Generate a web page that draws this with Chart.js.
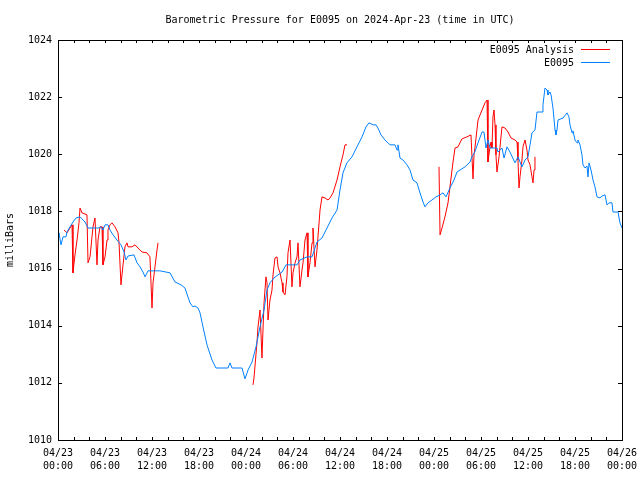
<!DOCTYPE html>
<html>
<head>
<meta charset="utf-8">
<script src="https://cdn.jsdelivr.net/npm/chart.js@4"></script>
<style>
  html, body { margin: 0; padding: 0; background: #fff; }
  #wrap { width: 640px; height: 480px; }
</style>
</head>
<body>
<div id="wrap"><canvas id="chart" width="640" height="480"></canvas></div>
<script>
// hours since 04/23 00:00 UTC and pressure (mbar)
const stationHours = [0, 0.13, 0.38, 0.64, 1.02, 1.15, 1.53, 1.91, 2.30, 2.81, 3.45, 3.83, 5.23, 5.49, 5.74, 6.0, 6.38, 6.64, 7.02, 7.53,
  8.04, 8.43, 8.68, 8.94, 9.70, 10.09, 10.47, 10.85, 11.11, 11.49, 13.02, 14.30, 14.94, 15.70, 16.21, 16.85, 17.23, 17.49, 17.87, 18.13,
  18.51, 19.02, 19.66, 20.17, 21.70, 21.96, 22.21, 23.49, 23.87, 24.26, 24.77, 25.28, 25.79, 26.30, 26.68, 27.06, 27.57, 28.09, 28.60, 29.11,
  30.51, 30.89, 31.79, 32.43, 33.06, 33.70, 34.34, 34.98, 35.62, 36.00, 36.38, 36.89, 37.53, 38.17, 38.81, 39.32, 39.70, 40.21, 40.60, 40.85,
  41.23, 41.74, 42.13, 42.38, 43.02, 43.28, 43.40, 43.66, 44.04, 44.55, 44.94, 45.32, 45.83, 46.21, 46.60, 46.85, 47.23, 47.74, 48.26, 48.77,
  49.15, 49.53, 50.04, 50.55, 50.94, 51.32, 51.96, 52.60, 52.85, 53.24, 53.62, 54.13, 54.38, 54.64, 54.89, 55.15, 56.04, 56.17, 56.68, 56.94,
  57.32, 57.70, 58.34, 58.72, 59.23, 59.62, 60.0, 60.26, 60.51, 60.89, 61.15, 61.79, 61.91, 62.17, 62.43, 62.55, 62.81, 62.94, 63.19, 63.45,
  63.57, 63.70, 63.83, 64.47, 64.98, 65.23, 65.36, 65.62, 65.74, 66.0, 66.26, 66.38, 66.64, 66.89, 67.02, 67.28, 67.53, 67.66, 67.79, 68.04,
  68.17, 68.30, 68.55, 68.81, 69.19, 69.45, 69.83, 70.09, 70.34, 70.72, 70.85, 71.49, 71.74, 72.0];
const stationPressure = [1017.14, 1017.25, 1016.83, 1017.11, 1017.11, 1017.28, 1017.46, 1017.63, 1017.77, 1017.81, 1017.63, 1017.42, 1017.42, 1017.46, 1017.35, 1017.53, 1017.53, 1017.35, 1017.18, 1017.0,
  1016.83, 1016.58, 1016.30, 1016.44, 1016.48, 1016.20, 1016.06, 1015.88, 1015.71, 1015.92, 1015.92, 1015.85, 1015.53, 1015.43, 1015.32, 1014.80, 1014.66, 1014.69, 1014.62, 1014.45,
  1013.96, 1013.33, 1012.80, 1012.52, 1012.52, 1012.70, 1012.52, 1012.52, 1012.14, 1012.45, 1012.73, 1013.26, 1013.96, 1014.55, 1015.25, 1015.50, 1015.67, 1015.78, 1015.88, 1016.13,
  1016.13, 1016.30, 1016.41, 1016.41, 1016.93, 1017.07, 1017.42, 1017.77, 1018.05, 1018.75, 1019.35, 1019.70, 1019.91, 1020.26, 1020.61, 1020.96, 1021.10, 1021.03, 1021.03, 1020.92,
  1020.68, 1020.50, 1020.40, 1020.33, 1020.33, 1020.15, 1020.33, 1019.87, 1019.80, 1019.63, 1019.45, 1019.10, 1019.00, 1018.65, 1018.33, 1018.16, 1018.30, 1018.40, 1018.51, 1018.58,
  1018.65, 1018.51, 1018.82, 1019.10, 1019.38, 1019.45, 1019.56, 1019.73, 1019.91, 1020.10, 1020.40, 1020.78, 1020.78, 1020.22, 1020.50, 1020.22, 1020.22, 1020.08, 1020.22, 1019.87,
  1020.26, 1020.08, 1019.70, 1019.91, 1019.56, 1019.80, 1019.91, 1020.33, 1020.75, 1020.85, 1021.48, 1021.48, 1021.73, 1022.32, 1022.25, 1022.08, 1022.18, 1022.08, 1021.62, 1020.85,
  1020.68, 1020.85, 1021.20, 1021.27, 1021.45, 1021.31, 1021.03, 1020.75, 1020.82, 1020.50, 1020.40, 1020.50, 1020.33, 1019.98, 1019.63, 1019.52, 1019.59, 1019.21, 1019.70, 1019.45,
  1019.28, 1019.10, 1018.86, 1018.51, 1018.47, 1018.54, 1018.58, 1018.23, 1018.30, 1018.30, 1017.98, 1017.98, 1017.60, 1017.42];

// analysis series, null = gap between runs
const analysisHours = [0.77, 1.15, 1.53, 1.79, 1.91, 2.17, 2.43, 2.68, 2.81, 3.06, 3.70, 3.83, 4.09, 4.34, 4.47, 4.72, 4.98, 5.11, 5.36, 5.62,
  5.74, 6.0, 6.26, 6.38, 6.64, 6.89, 7.28, 7.66, 7.79, 8.04, 8.30, 8.55, 8.81, 8.94, 9.45, 9.83, 10.21, 10.72, 11.36, 11.74,
  12.0, 12.13, 12.38, 12.64, 12.77, 18.0,
  24.89, 25.02, 25.40, 25.53, 25.79, 26.04, 26.17, 26.30, 26.55, 26.68, 26.81, 27.06, 27.32, 27.45, 27.70, 27.96, 28.09, 28.34, 28.60, 28.72,
  28.98, 29.23, 29.36, 29.62, 29.87, 30.0, 30.26, 30.51, 30.64, 30.89, 31.15, 31.28, 31.53, 31.79, 31.91, 32.17, 32.43, 32.55, 32.81, 33.06,
  33.19, 33.45, 33.70, 34.09, 34.47, 34.72, 35.11, 35.62, 36.0, 36.38, 36.64, 36.89, 42.0,
  48.64, 48.77, 49.02, 49.40, 49.79, 50.04, 50.30, 50.43, 50.68, 51.06, 51.57, 52.21, 52.72, 52.85, 52.98, 53.11, 53.24, 53.62, 54.13, 54.51,
  54.77, 54.89, 55.15, 55.28, 55.40, 55.53, 55.66, 55.79, 55.91, 56.04, 56.30, 56.68, 57.06, 57.45, 57.83, 58.34, 58.60, 58.72, 58.85, 58.98,
  59.23, 59.36, 59.62, 59.87, 60.0, 60.26, 60.51, 60.64, 60.77, 60.89];
const analysisPressure = [1017.35, 1017.25, 1017.42, 1017.53, 1015.85, 1016.48, 1017.0, 1017.60, 1018.12, 1017.95, 1017.88, 1016.20, 1016.41, 1017.11, 1017.46, 1017.77, 1016.13, 1017.0, 1017.46, 1017.46,
  1016.13, 1016.41, 1017.0, 1017.35, 1017.53, 1017.60, 1017.46, 1017.25, 1016.90, 1015.43, 1016.13, 1016.76, 1016.90, 1016.76, 1016.76, 1016.83, 1016.72, 1016.58, 1016.55, 1016.41,
  1014.62, 1015.50, 1016.06, 1016.65, 1016.90, null,
  1011.93, 1012.17, 1013.40, 1013.96, 1014.55, 1012.87, 1013.85, 1014.80, 1015.71, 1015.50, 1014.20, 1014.90, 1015.25, 1015.78, 1016.37, 1016.41, 1016.06, 1015.85, 1015.50, 1015.18,
  1015.08, 1015.71, 1016.55, 1017.0, 1015.36, 1015.85, 1016.20, 1016.41, 1016.90, 1015.36, 1015.95, 1016.20, 1017.0, 1017.25, 1015.71, 1016.20, 1016.90, 1017.42, 1016.06, 1016.65,
  1017.11, 1018.05, 1018.51, 1018.47, 1018.40, 1018.47, 1018.65, 1019.10, 1019.56, 1019.98, 1020.33, 1020.33, null,
  1019.56, 1017.18, 1017.42, 1017.81, 1018.30, 1018.86, 1019.45, 1019.73, 1020.22, 1020.26, 1020.54, 1020.61, 1020.68, 1019.91, 1019.14, 1019.98, 1020.26, 1021.20, 1021.55, 1021.80,
  1021.90, 1019.73, 1020.26, 1020.43, 1020.22, 1021.31, 1021.55, 1021.03, 1019.98, 1019.38, 1019.91, 1020.96, 1020.92, 1020.78, 1020.57, 1020.50, 1020.43, 1019.80, 1018.82, 1019.21,
  1019.80, 1020.26, 1020.50, 1020.15, 1019.80, 1019.63, 1019.21, 1019.0, 1019.45, 1019.91];

const tickDates = ['04/23', '04/23', '04/23', '04/23', '04/24', '04/24', '04/24', '04/24', '04/25', '04/25', '04/25', '04/25', '04/26'];
const tickTimes = ['00:00', '06:00', '12:00', '18:00', '00:00', '06:00', '12:00', '18:00', '00:00', '06:00', '12:00', '18:00', '00:00'];
const yTicks = [1010, 1012, 1014, 1016, 1018, 1020, 1022, 1024];

const RED = 'rgb(255,0,0)';
const BLUE = 'rgb(0,128,255)';
const FONT = '"DejaVu Sans Mono", "Liberation Mono", monospace';

Chart.defaults.font.family = FONT;
Chart.defaults.font.size = 10;
Chart.defaults.color = '#000';

function toPoints(xs, ys) {
    return xs.map((x, i) => ({x: x, y: ys[i]}));
}

// gnuplot style frame, inward ticks, title and legend
let framePlugin = {
    id: 'frame',
    afterDraw: function (chart) {
        let ctx = chart.ctx;
        let a = chart.chartArea;
        let xs = chart.scales.x;
        let ys = chart.scales.y;
        ctx.save();
        ctx.strokeStyle = '#000';
        ctx.lineWidth = 1;
        ctx.strokeRect(Math.round(a.left) + 0.5, Math.round(a.top) + 0.5,
            Math.round(a.right - a.left), Math.round(a.bottom - a.top));
        ctx.beginPath();
        for (let h = 2; h < 72; h += 2) {
            let px = Math.round(xs.getPixelForValue(h)) + 0.5;
            ctx.moveTo(px, a.bottom);
            ctx.lineTo(px, a.bottom - 3);
            ctx.moveTo(px, a.top);
            ctx.lineTo(px, a.top + 3);
        }
        yTicks.forEach(v => {
            let py = Math.round(ys.getPixelForValue(v)) + 0.5;
            ctx.moveTo(a.left, py);
            ctx.lineTo(a.left + 4, py);
            ctx.moveTo(a.right, py);
            ctx.lineTo(a.right - 4, py);
        });
        ctx.stroke();

        ctx.fillStyle = '#000';
        ctx.font = '10px ' + FONT;
        ctx.textBaseline = 'middle';
        ctx.textAlign = 'center';
        ctx.fillText('Barometric Pressure for E0095 on 2024-Apr-23 (time in UTC)', (a.left + a.right) / 2, 20);

        // legend
        let entries = [['E0095 Analysis', RED], ['E0095', BLUE]];
        ctx.textAlign = 'right';
        entries.forEach((e, i) => {
            let yy = 50 + i * 13;
            ctx.fillStyle = '#000';
            ctx.fillText(e[0], 574, yy + 0.5);
            ctx.strokeStyle = e[1];
            ctx.beginPath();
            ctx.moveTo(581, yy - 0.5);
            ctx.lineTo(610, yy - 0.5);
            ctx.stroke();
        });
        ctx.restore();
    }
};

let ctx = document.getElementById('chart').getContext('2d');
let chart = new Chart(ctx, {
    type: 'line',
    data: {
        datasets: [{
            label: 'E0095 Analysis',
            data: toPoints(analysisHours, analysisPressure),
            borderColor: RED,
            borderWidth: 1,
            pointRadius: 0,
            spanGaps: false,
            tension: 0,
            order: 2
        }, {
            label: 'E0095',
            data: toPoints(stationHours, stationPressure),
            borderColor: BLUE,
            borderWidth: 1,
            pointRadius: 0,
            tension: 0,
            order: 1
        }]
    },
    options: {
        responsive: false,
        animation: false,
        events: [],
        layout: {padding: {top: 40, right: 18, left: 0, bottom: 0}},
        plugins: {legend: {display: false}, tooltip: {enabled: false}},
        scales: {
            x: {
                type: 'linear',
                min: 0,
                max: 72,
                grid: {display: false, drawTicks: false},
                border: {display: false},
                afterBuildTicks: function (s) {
                    s.ticks = tickTimes.map((t, i) => ({value: i * 6}));
                },
                afterFit: function (s) {
                    s.height = 40;
                    s.paddingLeft = 0;
                    s.paddingRight = 0;
                },
                ticks: {
                    autoSkip: false,
                    maxRotation: 0,
                    padding: 7,
                    font: {size: 10, lineHeight: 1.3},
                    callback: function (v) {
                        let i = Math.round(v / 6);
                        return [tickDates[i], tickTimes[i]];
                    }
                }
            },
            y: {
                min: 1010,
                max: 1024,
                grid: {display: false, drawTicks: false},
                border: {display: false},
                afterBuildTicks: function (s) {
                    s.ticks = yTicks.map(v => ({value: v}));
                },
                afterFit: function (s) {
                    s.width = 58;
                    s.paddingTop = 0;
                    s.paddingBottom = 0;
                },
                ticks: {
                    padding: 6,
                    font: {size: 10},
                    callback: v => String(v)
                },
                title: {display: true, text: 'milliBars', font: {size: 10}, padding: {top: 4, bottom: 4}}
            }
        }
    },
    plugins: [framePlugin]
});
</script>
</body>
</html>
